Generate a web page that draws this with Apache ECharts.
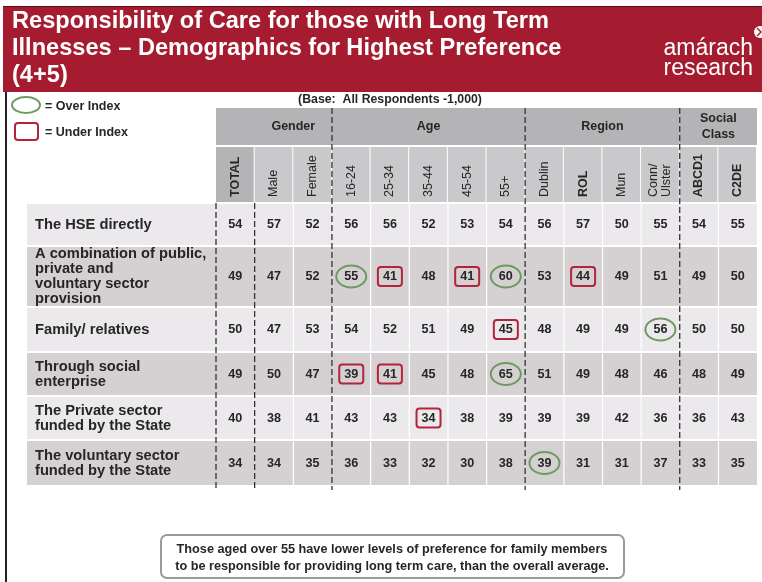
<!DOCTYPE html>
<html><head><meta charset="utf-8">
<script src="https://cdn.jsdelivr.net/npm/echarts@6/dist/echarts.min.js"></script>
<style>html,body{margin:0;padding:0;background:#fff}#c{width:762px;height:582px}</style>
</head><body><div id="c"></div>
<script>
// ---------- data ----------
const columns = ['TOTAL','Male','Female','16-24','25-34','35-44','45-54','55+','Dublin','ROL','Mun','Conn/\nUlster','ABCD1','C2DE'];
const boldColumns = ['TOTAL','ROL','ABCD1','C2DE'];
const groupNames = ['Gender','Age','Region','Social\nClass'];
const groupFirst = ['Male','16-24','Dublin','ABCD1'];
const groupLast = ['Female','55+','Conn/\nUlster','C2DE'];
const rowLabels = [
  'The HSE directly',
  'A combination of public,\nprivate and\nvoluntary sector\nprovision',
  'Family/ relatives',
  'Through social\nenterprise',
  'The Private sector\nfunded by the State',
  'The voluntary sector\nfunded by the State'
];
const hseDirectly   = [54,57,52,56,56,52,53,54,56,57,50,55,54,55];
const combination   = [49,47,52,55,41,48,41,60,53,44,49,51,49,50];
const familyRel     = [50,47,53,54,52,51,49,45,48,49,49,56,50,50];
const socialEnt     = [49,50,47,39,41,45,48,65,51,49,48,46,48,49];
const privateState  = [40,38,41,43,43,34,38,39,39,39,42,36,36,43];
const voluntaryState= [34,34,35,36,33,32,30,38,39,31,31,37,33,35];
const rowValues = [hseDirectly, combination, familyRel, socialEnt, privateState, voluntaryState];
// [row index, column]
const overIndex  = [[1,'16-24'],[1,'55+'],[2,'Conn/\nUlster'],[3,'55+'],[5,'Dublin']];
const underIndex = [[1,'25-34'],[1,'45-54'],[1,'ROL'],[2,'55+'],[3,'16-24'],[3,'25-34'],[4,'35-44']];
const titleText = 'Responsibility of Care for those with Long Term\nIllnesses \u2013 Demographics for Highest Preference\n(4+5)';
const baseText = '(Base:  All Respondents -1,000)';
const footerText = 'Those aged over 55 have lower levels of preference for family members\nto be responsible for providing long term care, than the overall average.';

// ---------- layout (pixel-unit y axis) ----------
const rowHeights = [43, 61, 45, 44, 44, 46];
const rowStart = []; { let s = 0; rowHeights.forEach(h => { rowStart.push(s); s += h; }); }
const tableHeight = rowStart[rowStart.length-1] + rowHeights[rowHeights.length-1];
const groupBand = [-95, -58];
const subBand = [-56, -1];
const FONT = '"Liberation Sans", Arial, sans-serif';
const TXT = '#262626';
const lightRow = '#EBE9EC', darkRow = '#D5D1D3';

function flagOf(r, col) {
  if (overIndex.some(o => o[0] === r && o[1] === col)) return 1;
  if (underIndex.some(o => o[0] === r && o[1] === col)) return 2;
  return 0;
}
const cellData = [];
rowValues.forEach((vals, r) => vals.forEach((v, c) => cellData.push([c, r, v, flagOf(r, columns[c])])));
const rowData = rowLabels.map((l, r) => [0, r]);
const colData = columns.map((c, i) => [i, 0]);
const groupData = groupNames.map((g, i) => [columns.indexOf(groupFirst[i]), columns.indexOf(groupLast[i])]);
const sepData = [[-0.5, 0], [0.5, 0]].concat(groupFirst.slice(1).map(g => [columns.indexOf(g) - 0.5, 1]));
const sepBoundaries = [0.5].concat(groupFirst.slice(1).map(g => columns.indexOf(g) - 0.5));

const chart = echarts.init(document.getElementById('c'));
chart.setOption({
  animation: false,
  grid: { left: 216, right: 5, top: 203, height: tableHeight },
  xAxis: { type: 'category', data: columns, show: false },
  yAxis: { type: 'value', min: 0, max: tableHeight, inverse: true, show: false },
  series: [
    { // row bands + labels
      type: 'custom', data: rowData, encode: { x: 0, y: 1 }, z: 1,
      renderItem(params, api) {
        const r = api.value(1);
        const w = api.size([1, 0])[0];
        const right = api.coord([columns.length - 1, 0])[0] + w / 2;
        const y0 = api.coord([0, rowStart[r]])[1], y1 = api.coord([0, rowStart[r] + rowHeights[r]])[1];
        return { type: 'group', children: [
          { type: 'rect', shape: { x: 27, y: y0 + 1, width: right - 27, height: y1 - y0 - 2 },
            style: { fill: r % 2 ? darkRow : lightRow } },
          { type: 'text', x: 35, y: (y0 + y1) / 2,
            style: { text: rowLabels[r], fill: TXT, font: 'bold 14.7px ' + FONT, lineHeight: 15,
              align: 'left', verticalAlign: 'middle', textAlign: 'left', textVerticalAlign: 'middle' } }
        ]};
      }
    },
    { // cells
      type: 'custom', data: cellData, encode: { x: 0, y: 1 }, z: 2,
      renderItem(params, api) {
        const c = api.value(0), r = api.value(1), v = api.value(2), f = api.value(3);
        const w = api.size([1, 0])[0];
        const p0 = api.coord([c, rowStart[r]]), p1 = api.coord([c, rowStart[r] + rowHeights[r]]);
        const cx = p0[0], cy = (p0[1] + p1[1]) / 2;
        const ch = [];
        if (c < columns.length - 1 && sepBoundaries.indexOf(c + 0.5) < 0) {
          ch.push({ type: 'rect', shape: { x: cx + w / 2 - 0.5, y: p0[1], width: 1.2, height: p1[1] - p0[1] }, style: { fill: '#fff' } });
        }
        if (f === 1) ch.push({ type: 'ellipse', shape: { cx: cx, cy: cy, rx: 15, ry: 11 },
          style: { fill: null, stroke: '#6E9A62', lineWidth: 2 } });
        if (f === 2) ch.push({ type: 'rect', shape: { x: cx - 12, y: cy - 9.5, width: 24, height: 19, r: 3 },
          style: { fill: null, stroke: '#B3243B', lineWidth: 2 } });
        ch.push({ type: 'text', x: cx, y: cy + 0.5, style: { text: String(v), fill: TXT, font: 'bold 12.6px ' + FONT,
          align: 'center', verticalAlign: 'middle', textAlign: 'center', textVerticalAlign: 'middle' } });
        return { type: 'group', children: ch };
      }
    },
    { // column headers
      type: 'custom', data: colData, encode: { x: 0, y: 1 }, z: 2,
      renderItem(params, api) {
        const c = api.value(0);
        const w = api.size([1, 0])[0];
        const cx = api.coord([c, 0])[0];
        const y0 = api.coord([c, subBand[0]])[1], y1 = api.coord([c, subBand[1]])[1];
        const name = columns[c];
        const bold = boldColumns.indexOf(name) >= 0;
        return { type: 'group', children: [
          { type: 'rect', shape: { x: cx - w / 2, y: y0, width: w - 1, height: y1 - y0 },
            style: { fill: c === 0 ? '#B4B4B6' : '#C9C9CB' } },
          { type: 'text', x: cx, y: y1 - 5, rotation: Math.PI / 2,
            style: { text: name, fill: TXT, font: (bold ? 'bold ' : '') + '12.5px ' + FONT, lineHeight: 13,
              align: 'left', verticalAlign: 'middle', textAlign: 'left', textVerticalAlign: 'middle' } }
        ]};
      }
    },
    { // group headers
      type: 'custom', data: groupData, encode: { x: 0, y: 1 }, z: 2,
      renderItem(params, api) {
        const a = api.value(0), b = api.value(1), i = params.dataIndex;
        const w = api.size([1, 0])[0];
        const left = (i === 0 ? api.coord([0, 0])[0] : api.coord([a, 0])[0]) - w / 2;
        const right = api.coord([b, 0])[0] + w / 2;
        const mid = (api.coord([a, 0])[0] + api.coord([b, 0])[0]) / 2;
        const y0 = api.coord([0, groupBand[0]])[1], y1 = api.coord([0, groupBand[1]])[1];
        return { type: 'group', children: [
          { type: 'rect', shape: { x: left, y: y0, width: right - left, height: y1 - y0 }, style: { fill: '#B4B4B6' } },
          { type: 'text', x: mid, y: (y0 + y1) / 2, style: { text: groupNames[i], fill: TXT, font: 'bold 12.5px ' + FONT,
            lineHeight: 16, align: 'center', verticalAlign: 'middle', textAlign: 'center', textVerticalAlign: 'middle' } }
        ]};
      }
    },
    { // dashed separators
      type: 'custom', data: sepData, encode: { x: 0, y: 1 }, z: 3,
      renderItem(params, api) {
        const b = api.value(0), full = api.value(1);
        const w = api.size([1, 0])[0];
        const x = api.coord([0, 0])[0] + b * w;
        const y0 = api.coord([0, full ? groupBand[0] : 0])[1];
        const y1 = api.coord([0, tableHeight])[1] + 4;
        return { type: 'line', shape: { x1: x, y1: y0, x2: x, y2: y1 },
          style: { stroke: '#333', lineWidth: 1.3, lineDash: [6, 3] } };
      }
    }
  ],
  graphic: [
    { type: 'rect', shape: { x: 3, y: 6, width: 760, height: 86 }, style: { fill: '#A51C31' }, z: 0 },
    { type: 'line', shape: { x1: 3, y1: 6.5, x2: 762, y2: 6.5 }, style: { stroke: '#5a1018', lineWidth: 1 } },
    { type: 'rect', shape: { x: 5, y: 92, width: 2, height: 490 }, style: { fill: '#222' } },
    { type: 'text', x: 12, y: 7.5, style: { text: titleText, fill: '#fff',
      font: 'bold 23.6px ' + FONT, lineHeight: 27,
      align: 'left', verticalAlign: 'top', textAlign: 'left', textVerticalAlign: 'top' } },
    { type: 'text', x: 753, y: 49, style: { text: 'amárach', fill: '#fff', font: '23px ' + FONT,
      align: 'right', verticalAlign: 'middle', textAlign: 'right', textVerticalAlign: 'middle' } },
    { type: 'text', x: 753, y: 69, style: { text: 'research', fill: '#fff', font: '23px ' + FONT,
      align: 'right', verticalAlign: 'middle', textAlign: 'right', textVerticalAlign: 'middle' } },
    { type: 'circle', shape: { cx: 760, cy: 32, r: 6 }, style: { fill: '#fff' } },
    { type: 'polyline', shape: { points: [[757, 28], [761, 32], [757, 36]] }, style: { stroke: '#A51C31', lineWidth: 1.5, fill: null } },
    { type: 'ellipse', shape: { cx: 26, cy: 105, rx: 14, ry: 8 }, style: { fill: null, stroke: '#6E9A62', lineWidth: 2 } },
    { type: 'text', x: 45, y: 107, style: { text: '= Over Index', fill: TXT, font: 'bold 12.5px ' + FONT,
      align: 'left', verticalAlign: 'middle', textAlign: 'left', textVerticalAlign: 'middle' } },
    { type: 'rect', shape: { x: 15, y: 123, width: 23, height: 17, r: 3 }, style: { fill: null, stroke: '#B3243B', lineWidth: 2 } },
    { type: 'text', x: 45, y: 133, style: { text: '= Under Index', fill: TXT, font: 'bold 12.5px ' + FONT,
      align: 'left', verticalAlign: 'middle', textAlign: 'left', textVerticalAlign: 'middle' } },
    { type: 'text', x: 390, y: 100, style: { text: baseText, fill: TXT, font: 'bold 12.3px ' + FONT,
      align: 'center', verticalAlign: 'middle', textAlign: 'center', textVerticalAlign: 'middle' } },
    { type: 'rect', shape: { x: 161, y: 535, width: 463, height: 43, r: 6 }, style: { fill: '#fff', stroke: '#9a9a9a', lineWidth: 2 } },
    { type: 'text', x: 392, y: 557.5, style: { text: footerText, fill: TXT, font: 'bold 12.7px ' + FONT, lineHeight: 17,
      align: 'center', verticalAlign: 'middle', textAlign: 'center', textVerticalAlign: 'middle' } }
  ]
});
</script></body></html>
